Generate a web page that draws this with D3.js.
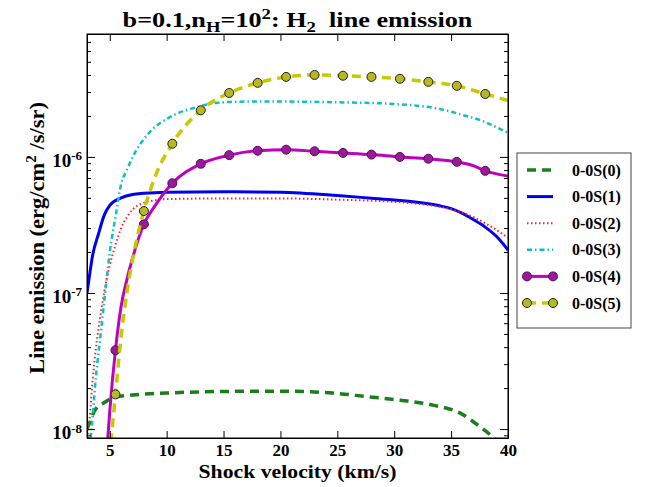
<!DOCTYPE html>
<html>
<head>
<meta charset="utf-8">
<script src="https://cdn.jsdelivr.net/npm/d3@7"></script>
<style>
  body { margin: 0; background: #fff; }
  svg text { font-family: "Liberation Serif", "DejaVu Serif", serif; font-weight: bold; fill: #000; }
</style>
</head>
<body>
<div id="chart"></div>
<script>
// series: shock velocity (km/s) -> line emission (erg/cm2/s/sr)
var s0x = [3.0, 3.2, 3.7, 4.6, 5.5, 7, 10, 15, 20, 24.6, 27.6, 30.5, 33.4, 35.8, 37.6, 38.7, 39.5];
var s0y = [1.0e-8, 1.1e-8, 1.38e-8, 1.58e-8, 1.72e-8, 1.78e-8, 1.84e-8, 1.89e-8, 1.9e-8, 1.84e-8, 1.73e-8, 1.63e-8, 1.5e-8, 1.31e-8, 1.03e-8, 8.7e-9, 7.5e-9];

var s1x = [3, 3.25, 3.5, 4, 4.5, 5, 6, 7, 8, 10, 15, 20, 25, 28, 30, 32, 33, 34, 35, 36, 37, 38, 39, 40];
var s1y = [1.0e-7, 1.4e-7, 1.9e-7, 2.7e-7, 3.7e-7, 4.4e-7, 5.0e-7, 5.3e-7, 5.4e-7, 5.5e-7, 5.55e-7, 5.5e-7, 5.2e-7, 4.97e-7, 4.82e-7, 4.64e-7, 4.52e-7, 4.37e-7, 4.17e-7, 3.85e-7, 3.45e-7, 3.05e-7, 2.6e-7, 2.07e-7];

var s2x = [3, 3.25, 3.5, 3.75, 4, 4.5, 5, 5.5, 6, 6.5, 7, 8, 9, 10, 15, 20, 25, 30, 32, 33, 34, 35, 36, 37, 38, 39, 40];
var s2y = [7e-9, 1.25e-8, 2.3e-8, 3.7e-8, 5.4e-8, 1.0e-7, 1.6e-7, 2.25e-7, 3.0e-7, 3.6e-7, 4.1e-7, 4.6e-7, 4.8e-7, 4.9e-7, 4.95e-7, 4.95e-7, 4.85e-7, 4.67e-7, 4.53e-7, 4.43e-7, 4.3e-7, 4.12e-7, 3.88e-7, 3.6e-7, 3.25e-7, 2.9e-7, 2.55e-7];

var s3x = [3.2, 3.4, 3.8, 4.2, 4.7, 5.0, 5.5, 6.0, 6.5, 7.2, 8, 8.7, 10, 11, 12.5, 14.5, 17, 20, 25, 30, 32, 34, 35, 36, 37.5, 39, 40];
var s3y = [7e-9, 1.0e-8, 2.5e-8, 5.0e-8, 1.2e-7, 2.0e-7, 3.6e-7, 6.3e-7, 8.0e-7, 1.07e-6, 1.35e-6, 1.58e-6, 1.9e-6, 2.1e-6, 2.3e-6, 2.5e-6, 2.55e-6, 2.55e-6, 2.52e-6, 2.45e-6, 2.38e-6, 2.25e-6, 2.15e-6, 2.03e-6, 1.87e-6, 1.65e-6, 1.5e-6];

var s4x = [4.8, 5, 5.5, 6, 6.5, 7, 8, 9, 10.5, 13, 15.5, 18, 20.5, 23, 25.5, 28, 30.5, 33, 35.5, 37, 38, 39, 40];
var s4y = [8e-9, 1.35e-8, 3.8e-8, 8e-8, 1.25e-7, 1.8e-7, 3.2e-7, 4.4e-7, 6.4e-7, 8.9e-7, 1.03e-6, 1.11e-6, 1.13e-6, 1.10e-6, 1.07e-6, 1.04e-6, 1.0e-6, 9.7e-7, 9.2e-7, 8.6e-7, 7.9e-7, 7.5e-7, 7.25e-7];

var s5x = [5.1, 5.5, 6, 6.5, 7, 8, 9, 10.5, 13, 15.5, 18, 20.5, 23, 25.5, 28, 30.5, 33, 35.5, 38, 40];
var s5y = [8e-9, 1.8e-8, 4.8e-8, 1.0e-7, 1.75e-7, 4.0e-7, 7.2e-7, 1.25e-6, 2.2e-6, 2.95e-6, 3.5e-6, 3.87e-6, 4.0e-6, 3.95e-6, 3.87e-6, 3.75e-6, 3.56e-6, 3.33e-6, 2.9e-6, 2.6e-6];

// x positions that carry a marker on the 4 and 5 curves
var markerX = [5.5, 8, 10.5, 13, 15.5, 18, 20.5, 23, 25.5, 28, 30.5, 33, 35.5, 38];

var seriesNames = ["0-0S(0)", "0-0S(1)", "0-0S(2)", "0-0S(3)", "0-0S(4)", "0-0S(5)"];
var xTicks = [5, 10, 15, 20, 25, 30, 35, 40];
var yMajor = [1e-8, 1e-7, 1e-6];
var yExp = ["-8", "-7", "-6"];

var styles = [
  {color: "#1a7f1a", width: 3.5, dash: "9,6"},
  {color: "#0000f0", width: 3, dash: null},
  {color: "#ff2020", width: 2, dash: "1.5,2.5"},
  {color: "#10c0c0", width: 2.5, dash: "5,3,1.5,3"},
  {color: "#bf00bf", width: 3, dash: null, marker: "#9a1a9a", edge: "#5a0a5a"},
  {color: "#c8c800", width: 3.5, dash: "9,6", marker: "#b8b820", edge: "#222"}
];

var xs = [s0x, s1x, s2x, s3x, s4x, s5x];
var ys = [s0y, s1y, s2y, s3y, s4y, s5y];
var series = xs.map(function(xa, i) {
  return xa.map(function(v, j) { return {x: v, y: ys[i][j]}; });
});

var margin = {top: 34, right: 142, bottom: 49, left: 87},
    width = 650 - margin.left - margin.right,
    height = 487 - margin.top - margin.bottom;

var svg = d3.select("#chart")
  .append("svg")
    .attr("width", 650)
    .attr("height", 487)
  .append("g")
    .attr("transform", "translate(" + margin.left + "," + margin.top + ")");

var x = d3.scaleLinear().domain([3, 40]).range([0, width]);
var y = d3.scaleLog().domain([8.6e-9, 8e-6]).range([height, 0]);

svg.append("clipPath").attr("id", "clip")
  .append("rect").attr("width", width).attr("height", height);

var line = d3.line()
  .x(function(d) { return x(d.x); })
  .y(function(d) { return y(d.y); })
  .curve(d3.curveMonotoneX);

var plot = svg.append("g").attr("clip-path", "url(#clip)");

series.forEach(function(data, i) {
  var st = styles[i];
  plot.append("path")
    .datum(data)
    .attr("fill", "none")
    .attr("stroke", st.color)
    .attr("stroke-width", st.width)
    .attr("stroke-dasharray", st.dash)
    .attr("d", line);
  if (st.marker) {
    plot.selectAll(".m" + i)
      .data(data.filter(function(d) { return markerX.indexOf(d.x) >= 0; }))
      .enter().append("circle")
        .attr("cx", function(d) { return x(d.x); })
        .attr("cy", function(d) { return y(d.y); })
        .attr("r", 4.5)
        .attr("fill", st.marker)
        .attr("stroke", st.edge)
        .attr("stroke-width", 1);
  }
});

// minor ticks for log axis
var yMinor = [];
[1e-9, 1e-8, 1e-7, 1e-6].forEach(function(dec) {
  for (var k = 2; k <= 9; k++) {
    var v = k * dec;
    if (v > 8.6e-9 && v < 8e-6) yMinor.push(v);
  }
});

// axes, ticks pointing inward
svg.append("g")
  .attr("class", "xaxis")
  .attr("transform", "translate(0," + height + ")")
  .call(d3.axisBottom(x).tickValues(xTicks).tickSize(-7).tickFormat(d3.format("d")));
svg.append("g")
  .call(d3.axisTop(x).tickValues(xTicks).tickSize(-7).tickFormat(""));

var yl = svg.append("g")
  .attr("class", "yaxis")
  .call(d3.axisLeft(y).tickValues(yMajor).tickSize(-8).tickPadding(5).tickFormat(""));
svg.append("g")
  .call(d3.axisLeft(y).tickValues(yMinor).tickSize(-4).tickFormat(""));
svg.append("g")
  .attr("transform", "translate(" + width + ",0)")
  .call(d3.axisRight(y).tickValues(yMajor).tickSize(-8).tickFormat(""));
svg.append("g")
  .attr("transform", "translate(" + width + ",0)")
  .call(d3.axisRight(y).tickValues(yMinor).tickSize(-4).tickFormat(""));

svg.selectAll(".domain").attr("stroke", "#000").attr("stroke-width", 1);
svg.selectAll(".tick line").attr("stroke", "#000");
svg.selectAll(".xaxis text").style("font-size", "17px").attr("y", 18).attr("dy", 0);

yl.selectAll(".tick text").each(function(d, i) {
  var t = d3.select(this).style("font-size", "19px").attr("dy", "0.5em");
  t.append("tspan").text("10");
  t.append("tspan").attr("dy", "-0.5em").style("font-size", "13px").text(yExp[i]);
});

// frame
svg.append("rect")
  .attr("width", width).attr("height", height)
  .attr("fill", "none").attr("stroke", "#000");

// stretch a label along its writing direction so it spans the given length
function fit(sel, len, cx, cy, rot) {
  var w = sel.node().getComputedTextLength();
  sel.attr("transform", "translate(" + cx + "," + cy + ")" + (rot ? " rotate(" + rot + ")" : "") +
    " scale(" + (len / w) + ",1)");
}

// title
var title = svg.append("text")
  .attr("text-anchor", "middle")
  .style("font-size", "21px");
title.append("tspan").text("b=0.1,n");
title.append("tspan").attr("dy", 5).style("font-size", "15px").text("H");
title.append("tspan").attr("dy", -5).text("=10");
title.append("tspan").attr("dy", -8).style("font-size", "15px").text("2");
title.append("tspan").attr("dy", 8).text(": H");
title.append("tspan").attr("dy", 5).style("font-size", "15px").text("2");
title.append("tspan").attr("dy", -5).text("\u00a0 line emission");
fit(title, 350, width / 2, -7);

// axis labels
var xlab = svg.append("text")
  .attr("text-anchor", "middle")
  .style("font-size", "19px")
  .text("Shock velocity (km/s)");
fit(xlab, 198, width / 2, height + 40);

var ylab = svg.append("text")
  .attr("text-anchor", "middle")
  .style("font-size", "21px");
ylab.append("tspan").text("Line emission (erg/cm");
ylab.append("tspan").attr("dy", -8).style("font-size", "14px").text("2");
ylab.append("tspan").attr("dy", 8).text(" /s/sr)");
fit(ylab, 272, -43, height / 2 + 2, -90);

// legend
var lg = svg.append("g").attr("transform", "translate(" + (517 - margin.left) + "," + (153 - margin.top) + ")");
lg.append("rect")
  .attr("width", 114).attr("height", 175)
  .attr("fill", "#fff").attr("stroke", "#444").attr("stroke-width", 1);
seriesNames.forEach(function(name, i) {
  var st = styles[i];
  var row = lg.append("g").attr("transform", "translate(0," + (17 + i * 26.6) + ")");
  row.append("line")
    .attr("x1", 10).attr("x2", 36)
    .attr("stroke", st.color)
    .attr("stroke-width", st.width)
    .attr("stroke-dasharray", st.dash);
  if (st.marker) {
    [10, 36].forEach(function(cx) {
      row.append("circle").attr("cx", cx).attr("r", 4.5)
        .attr("fill", st.marker).attr("stroke", st.edge);
    });
  }
  row.append("text")
    .attr("x", 55).attr("dy", "0.35em")
    .style("font-size", "16px")
    .text(name);
});
</script>
</body>
</html>
